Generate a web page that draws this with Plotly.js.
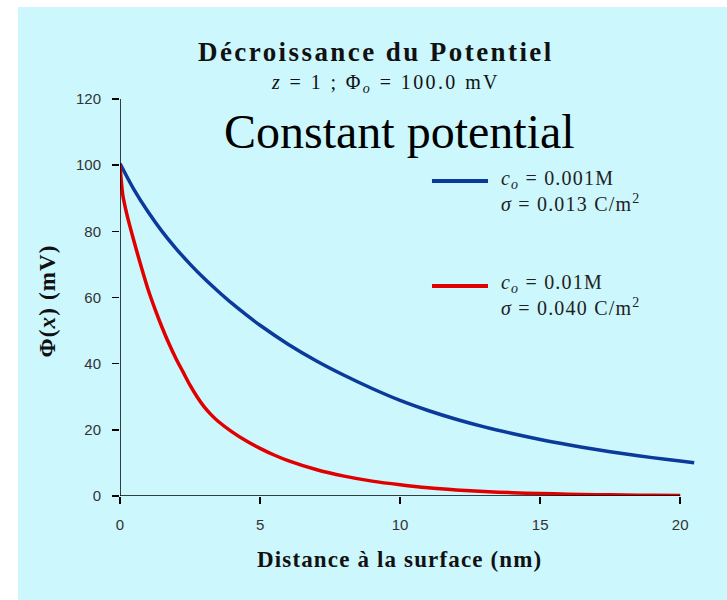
<!DOCTYPE html>
<html>
<head>
<meta charset="utf-8">
<script src="https://cdn.plot.ly/plotly-3.0.1.min.js"></script>
<style>
  html, body { margin: 0; padding: 0; background: #ffffff; }
  #frame { position: absolute; left: 18px; top: 7px; width: 709px; height: 593px; }
</style>
</head>
<body>
<div id="frame"></div>
<script>
// Distance from the surface (nm)
const distBlue = [0, 0.5, 1, 1.5, 2, 2.5, 3, 3.5, 4, 4.5, 5, 6, 7, 8, 9, 10, 11, 12, 13, 14, 15, 16, 17, 18, 19, 20, 20.5];
// Potential for c0 = 0.001 M (mV)
const phiBlue  = [100.5, 92.6, 85.9, 80.0, 74.8, 70.1, 65.8, 61.9, 58.2, 54.8, 51.6, 45.9, 40.9, 36.5, 32.5, 28.9, 25.85, 23.2, 20.9, 18.9, 17.1, 15.5, 14.05, 12.75, 11.6, 10.55, 10.05];

const distRed = [0, 0.1, 0.25, 0.5, 0.75, 1, 1.25, 1.5, 1.75, 2, 2.25, 2.5, 2.75, 3, 3.25, 3.5, 4, 4.5, 5, 5.5, 6, 7, 8, 9, 10, 11, 12, 13, 14, 15, 16, 17, 18, 19, 20];
// Potential for c0 = 0.01 M (mV)
const phiRed  = [100, 91, 85, 77, 69.5, 62.5, 56.5, 51, 46, 41.5, 37.5, 33.5, 30, 27, 24.6, 22.6, 19.4, 16.7, 14.4, 12.4, 10.7, 8.0, 6.0, 4.5, 3.4, 2.5, 1.85, 1.35, 1.0, 0.75, 0.55, 0.4, 0.3, 0.22, 0.16];

const xTicks = [0, 5, 10, 15, 20];
const yTicks = [0, 20, 40, 60, 80, 100, 120];

const seriesNames = ['c0 = 0.001M', 'c0 = 0.01M'];

// slightly open letter spacing for the serif captions
const spaced = (s, em) => '<span style="letter-spacing:' + em + 'em">' + s + '</span>';

const legendBlue = ['<i>c<sub>o</sub></i> = 0.001M', '<i>σ</i> = 0.013 C/m<sup>2</sup>'];
const legendRed  = ['<i>c<sub>o</sub></i> = 0.01M', '<i>σ</i> = 0.040 C/m<sup>2</sup>'];

const BLUE = '#0b3a9b';
const RED = '#e00000';
const serif = 'Liberation Serif, Times New Roman, serif';
const sans = 'Liberation Sans, Arial, sans-serif';

const traces = [
  { x: distBlue, y: phiBlue, name: seriesNames[0], mode: 'lines', line: { color: BLUE, width: 3.5, shape: 'spline', smoothing: 0.8 }, cliponaxis: false },
  { x: distRed, y: phiRed, name: seriesNames[1], mode: 'lines', line: { color: RED, width: 3.5, shape: 'spline', smoothing: 0.8 }, cliponaxis: false }
];

const axisFont = { family: sans, size: 15, color: '#333333' };

function legendText(text, y) {
  return { text: spaced(text, 0.06), xref: 'paper', yref: 'paper', x: 0.657, y: y, xanchor: 'left', yanchor: 'middle', align: 'left', showarrow: false, font: { family: serif, size: 20, color: '#222' } };
}

const layout = {
  width: 709, height: 593,
  margin: { l: 102, r: 30, t: 92, b: 104 },
  paper_bgcolor: '#ccf7fd',
  plot_bgcolor: 'rgba(0,0,0,0)',
  showlegend: false,
  xaxis: {
    range: [0, 20.6], tickvals: xTicks, ticks: 'outside', ticklen: 7, tickwidth: 1.5, tickcolor: '#000',
    showgrid: false, zeroline: false, showline: false, tickfont: axisFont, ticklabelstandoff: 8, fixedrange: true
  },
  yaxis: {
    range: [0, 120], tickvals: yTicks, ticks: 'outside', ticklen: 7, tickwidth: 1.5, tickcolor: '#000',
    showgrid: false, zeroline: false, showline: false, tickfont: axisFont, ticklabelstandoff: 8, fixedrange: true
  },
  shapes: [
    { type: 'line', xref: 'x', yref: 'y', x0: 0, x1: 20, y0: 0, y1: 0, line: { color: '#000', width: 1.5 } },
    { type: 'line', xref: 'x', yref: 'y', x0: 0, x1: 0, y0: 0, y1: 120, line: { color: '#000', width: 1.5 } },
    { type: 'line', xref: 'paper', yref: 'paper', x0: 0.5407, x1: 0.6378, y0: 0.7935, y1: 0.7935, line: { color: BLUE, width: 4 } },
    { type: 'line', xref: 'paper', yref: 'paper', x0: 0.5407, x1: 0.6378, y0: 0.529, y1: 0.529, line: { color: RED, width: 4 } }
  ],
  annotations: [
    { text: spaced('<b>Décroissance du Potentiel</b>', 0.09), xref: 'paper', yref: 'paper', x: 0.444, y: 1.118, xanchor: 'center', yanchor: 'middle', showarrow: false, font: { family: serif, size: 27, color: '#111' } },
    { text: spaced('<i>z</i> = 1 ; Φ<sub><i>o</i></sub> = 100.0 mV', 0.12), xref: 'paper', yref: 'paper', x: 0.461, y: 1.040, xanchor: 'center', yanchor: 'middle', showarrow: false, font: { family: serif, size: 20, color: '#111' } },
    { text: 'Constant potential', xref: 'paper', yref: 'paper', x: 0.485, y: 0.917, xanchor: 'center', yanchor: 'middle', showarrow: false, font: { family: serif, size: 48, color: '#000' } },
    legendText(legendBlue[0], 0.796),
    legendText(legendBlue[1], 0.738),
    legendText(legendRed[0], 0.5365),
    legendText(legendRed[1], 0.476),
    { text: spaced('<b>Distance à la surface (nm)</b>', 0.05), xref: 'paper', yref: 'paper', x: 0.485, y: -0.161, xanchor: 'center', yanchor: 'middle', showarrow: false, font: { family: serif, size: 23, color: '#111' } },
    { text: spaced('<b>Φ(<i>x</i>) (mV)</b>', 0.05), xref: 'paper', yref: 'paper', x: -0.1265, y: 0.49, xanchor: 'center', yanchor: 'middle', textangle: -90, showarrow: false, font: { family: serif, size: 23, color: '#111' } }
  ]
};

Plotly.newPlot('frame', traces, layout, { displayModeBar: false, staticPlot: true });
</script>
</body>
</html>
